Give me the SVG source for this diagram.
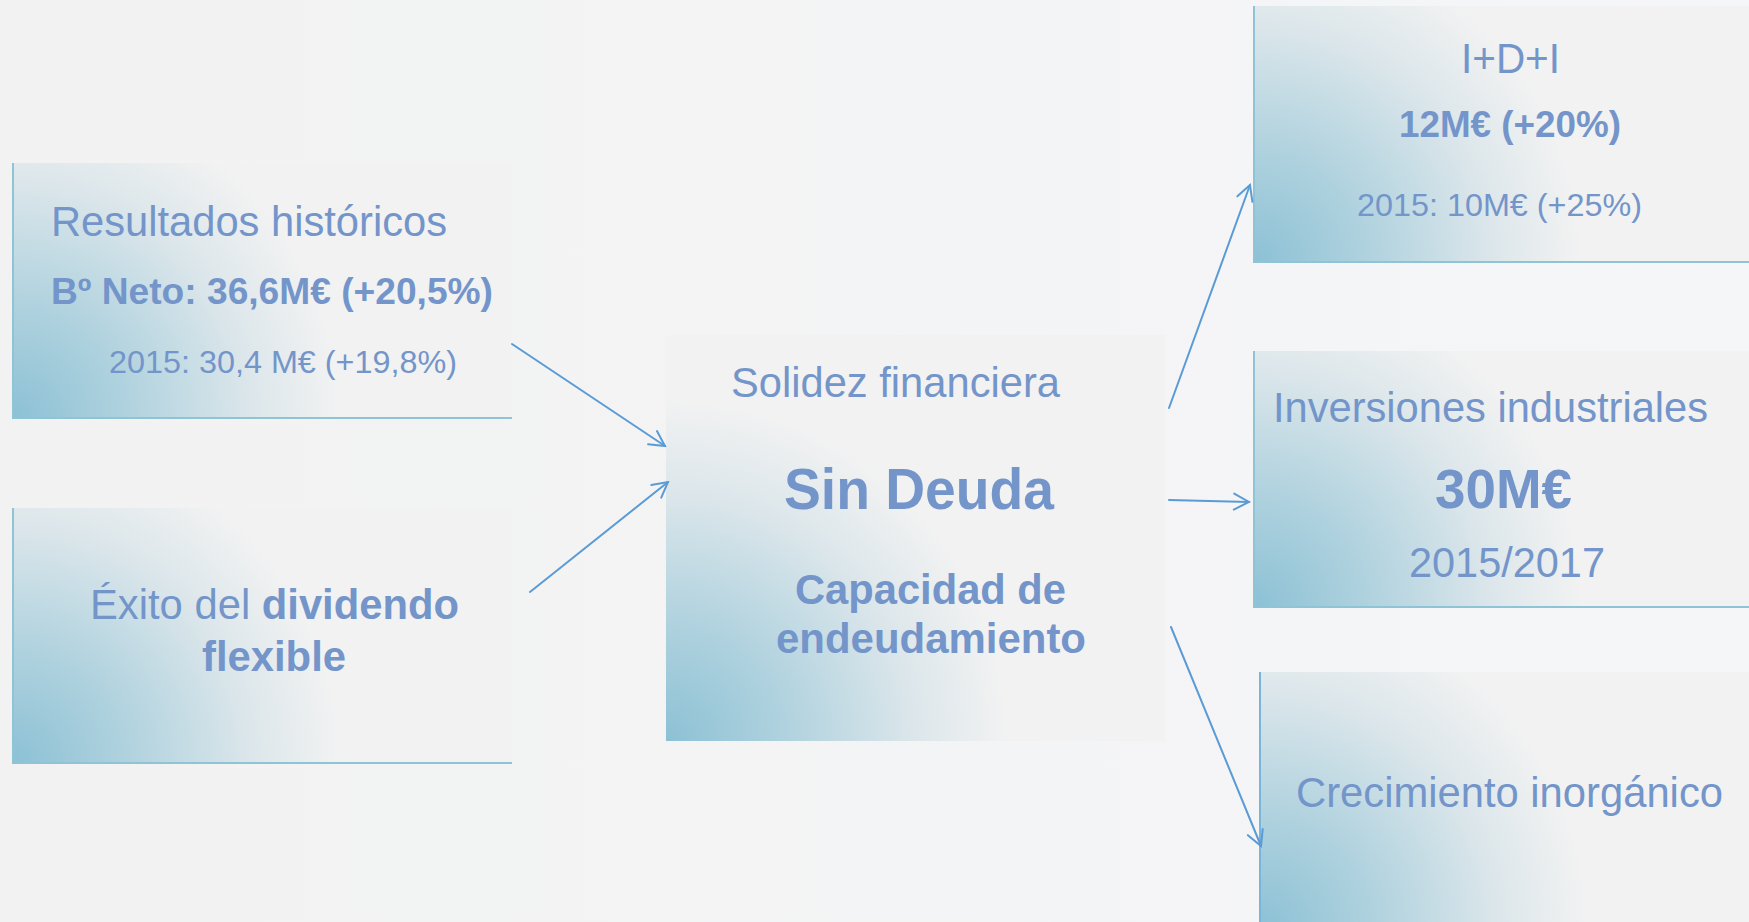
<svg xmlns="http://www.w3.org/2000/svg" xmlns:xlink="http://www.w3.org/1999/xlink" width="1749" height="922" viewBox="0 0 1749 922">
  <style>
    .t { font-family: "Liberation Sans", Arial, sans-serif; fill: #7395ca; }
    .b { font-weight: bold; }
    .edge { stroke: #8fc3d6; stroke-width: 2; fill: none; }
    .conn { stroke: #5b9bd5; stroke-width: 2; fill: none; stroke-linecap: round; }
  </style>
  <defs>
    <linearGradient id="bg" x1="0" y1="0" x2="1" y2="0">
      <stop offset="0" stop-color="#f2f2f2"/>
      <stop offset="1" stop-color="#f5f6f8"/>
    </linearGradient>
    <radialGradient id="boxfill">
      <stop offset="0" stop-color="#8cc1d5"/>
      <stop offset="0.35" stop-color="#b2d3df"/>
      <stop offset="0.7" stop-color="#dde7eb"/>
      <stop offset="0.95" stop-color="#f2f2f2"/>
      <stop offset="1" stop-color="#f2f2f2"/>
    </radialGradient>
    <radialGradient id="g1" href="#boxfill" xlink:href="#boxfill" gradientUnits="userSpaceOnUse" cx="13" cy="418" r="345"/>
    <radialGradient id="g2" href="#boxfill" xlink:href="#boxfill" gradientUnits="userSpaceOnUse" cx="13" cy="763" r="345"/>
    <radialGradient id="g3" href="#boxfill" xlink:href="#boxfill" gradientUnits="userSpaceOnUse" cx="666" cy="741" r="360"/>
    <radialGradient id="g4" href="#boxfill" xlink:href="#boxfill" gradientUnits="userSpaceOnUse" cx="1254" cy="262" r="345"/>
    <radialGradient id="g5" href="#boxfill" xlink:href="#boxfill" gradientUnits="userSpaceOnUse" cx="1254" cy="607" r="345"/>
    <radialGradient id="g6" href="#boxfill" xlink:href="#boxfill" gradientUnits="userSpaceOnUse" cx="1260" cy="928" r="345"/>
    <marker id="arrow" markerUnits="userSpaceOnUse" viewBox="-18 -11 20 22" markerWidth="20" markerHeight="22" refX="0" refY="0" orient="auto">
      <path d="M-15,-8 L0,0 L-15,8" fill="none" stroke="#5b9bd5" stroke-width="2" stroke-linecap="round"/>
    </marker>
  </defs>

  <rect x="0" y="0" width="1749" height="922" fill="url(#bg)"/>

  <g id="node-resultados">
    <rect x="13" y="163" width="499" height="255" fill="url(#g1)"/>
    <path class="edge" d="M13,163 V418 H512"/>
    <text class="t" x="51" y="236" font-size="42" textLength="396" lengthAdjust="spacingAndGlyphs">Resultados históricos</text>
    <text class="t b" x="51" y="304" font-size="37" textLength="442" lengthAdjust="spacingAndGlyphs">Bº Neto: 36,6M€ (+20,5%)</text>
    <text class="t" x="109" y="373" font-size="32" textLength="348" lengthAdjust="spacingAndGlyphs">2015: 30,4 M€ (+19,8%)</text>
  </g>

  <g id="node-exito">
    <rect x="13" y="508" width="499" height="255" fill="url(#g2)"/>
    <path class="edge" d="M13,508 V763 H512"/>
    <text class="t" x="90" y="619" font-size="42" textLength="369" lengthAdjust="spacingAndGlyphs">Éxito del <tspan class="b">dividendo</tspan></text>
    <text class="t b" x="202" y="671" font-size="42" textLength="144" lengthAdjust="spacingAndGlyphs">flexible</text>
  </g>

  <g id="node-solidez">
    <rect x="666" y="335" width="499" height="406" fill="url(#g3)"/>
    <text class="t" x="731" y="397" font-size="42" textLength="329" lengthAdjust="spacingAndGlyphs">Solidez financiera</text>
    <text class="t b" x="784" y="509" font-size="57" textLength="270" lengthAdjust="spacingAndGlyphs">Sin Deuda</text>
    <text class="t b" x="795" y="604" font-size="42" textLength="271" lengthAdjust="spacingAndGlyphs">Capacidad de</text>
    <text class="t b" x="776" y="653" font-size="42" textLength="310" lengthAdjust="spacingAndGlyphs">endeudamiento</text>
  </g>

  <g id="node-idi">
    <rect x="1254" y="6" width="495" height="256" fill="url(#g4)"/>
    <path class="edge" d="M1254,6 V262 H1749"/>
    <text class="t" x="1461" y="73" font-size="42" textLength="99" lengthAdjust="spacingAndGlyphs">I+D+I</text>
    <text class="t b" x="1399" y="137" font-size="37" textLength="222" lengthAdjust="spacingAndGlyphs">12M€ (+20%)</text>
    <text class="t" x="1357" y="216" font-size="32" textLength="285" lengthAdjust="spacingAndGlyphs">2015: 10M€ (+25%)</text>
  </g>

  <g id="node-inversiones">
    <rect x="1254" y="351" width="495" height="256" fill="url(#g5)"/>
    <path class="edge" d="M1254,351 V607 H1749"/>
    <text class="t" x="1273" y="422" font-size="42" textLength="435" lengthAdjust="spacingAndGlyphs">Inversiones industriales</text>
    <text class="t b" x="1435" y="508" font-size="55" textLength="137" lengthAdjust="spacingAndGlyphs">30M€</text>
    <text class="t" x="1409" y="577" font-size="42" textLength="196" lengthAdjust="spacingAndGlyphs">2015/2017</text>
  </g>

  <g id="node-crecimiento">
    <rect x="1260" y="672" width="489" height="256" fill="url(#g6)"/>
    <path d="M1260,672 V922" stroke="#7ab4d8" stroke-width="2" fill="none"/>
    <text class="t" x="1296" y="807" font-size="42" textLength="427" lengthAdjust="spacingAndGlyphs">Crecimiento inorgánico</text>
  </g>

  <g id="connectors">
    <line class="conn" x1="512" y1="344" x2="665" y2="446" marker-end="url(#arrow)"/>
    <line class="conn" x1="530" y1="592" x2="668" y2="482" marker-end="url(#arrow)"/>
    <line class="conn" x1="1169" y1="408" x2="1250" y2="185" marker-end="url(#arrow)"/>
    <line class="conn" x1="1169" y1="500" x2="1249" y2="502" marker-end="url(#arrow)"/>
    <line class="conn" x1="1171" y1="627" x2="1261" y2="846" marker-end="url(#arrow)"/>
  </g>
</svg>
